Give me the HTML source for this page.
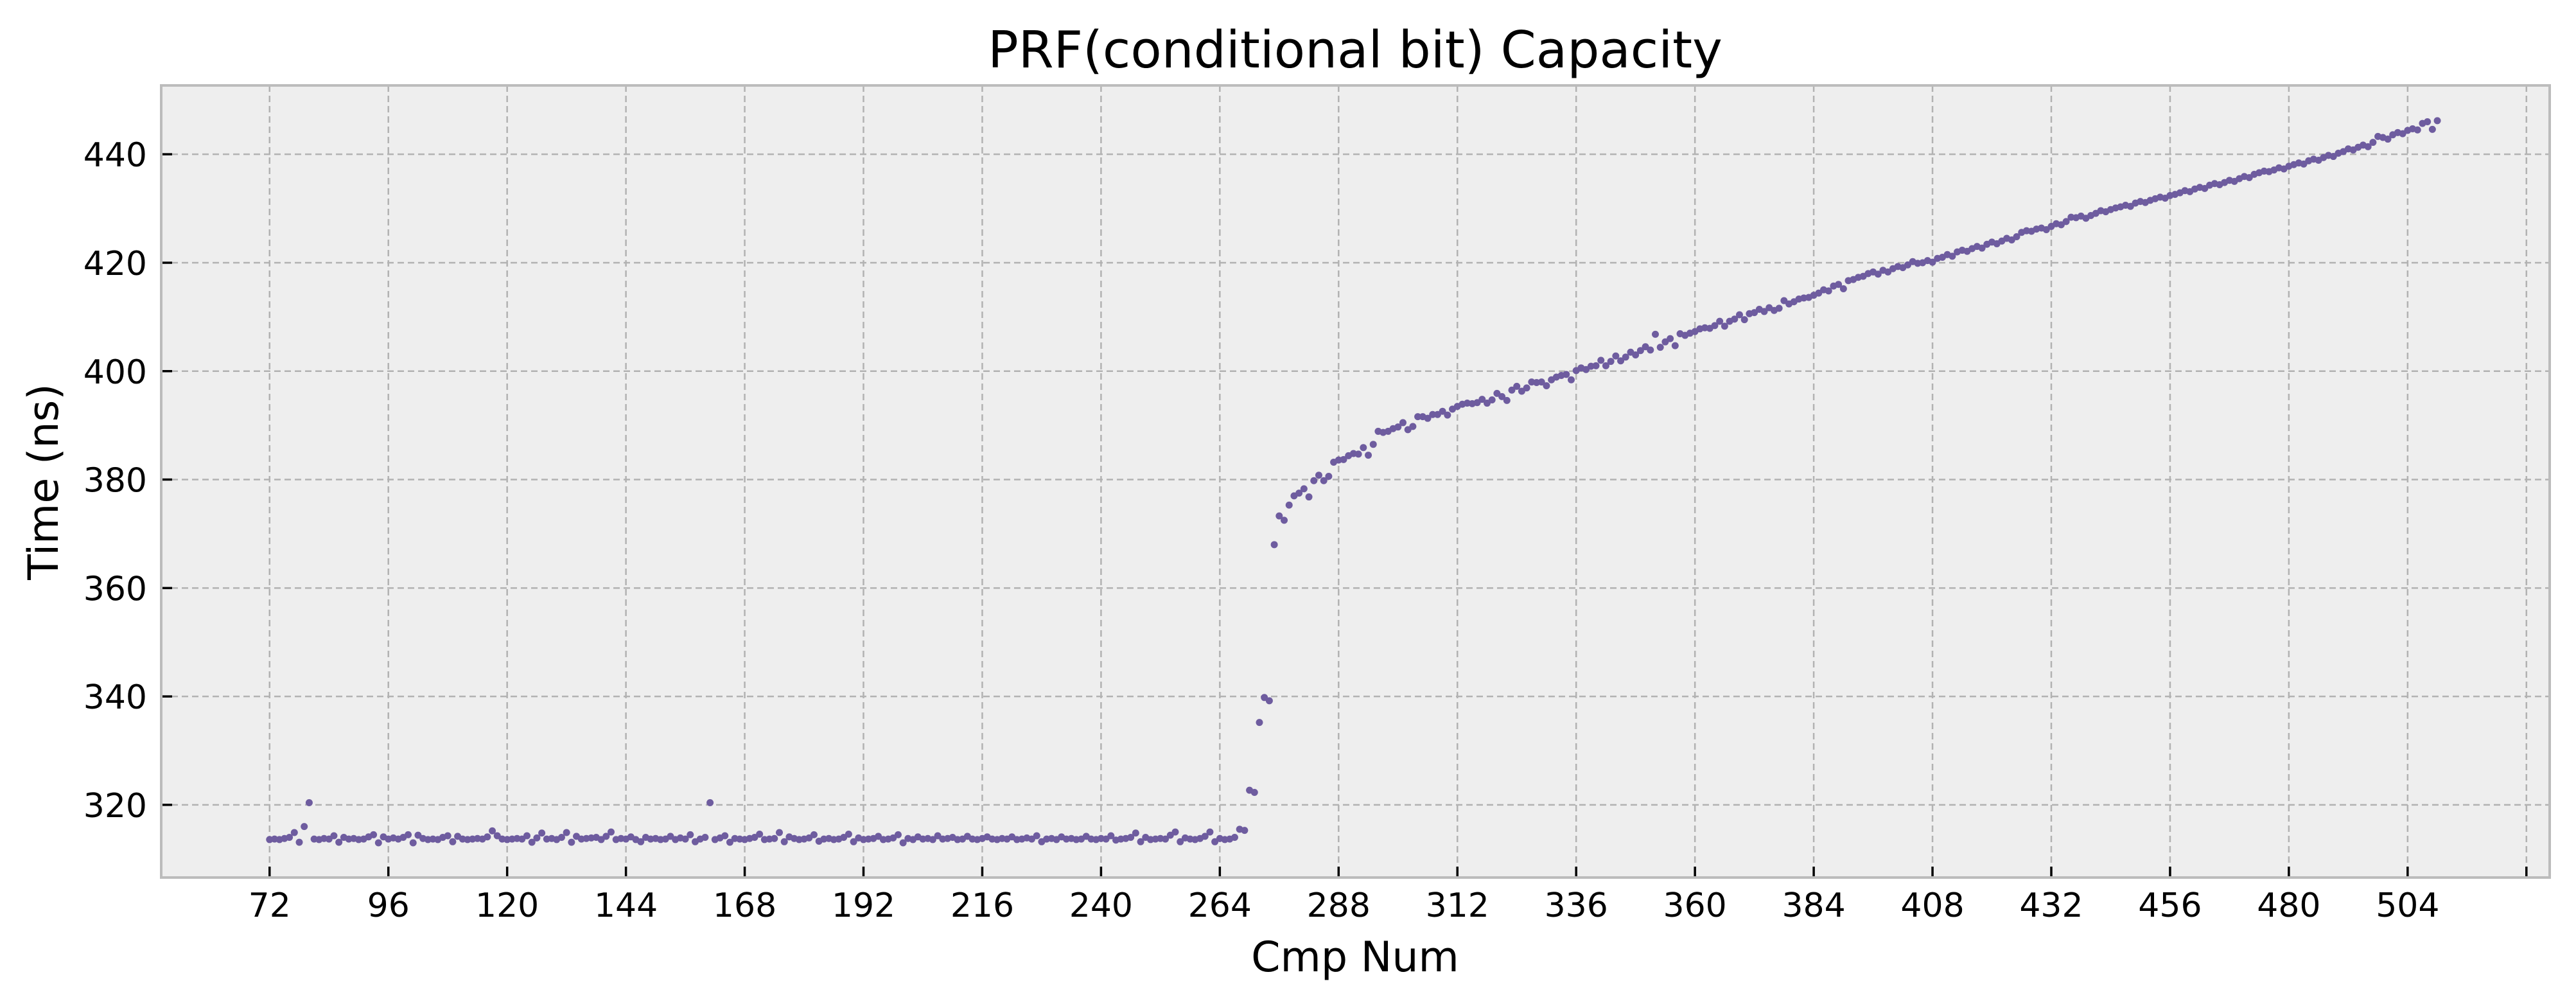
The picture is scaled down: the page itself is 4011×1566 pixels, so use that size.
<!DOCTYPE html>
<html><head><meta charset="utf-8"><style>
html,body{margin:0;padding:0;background:#fff;}
svg{display:block;font-family:"DejaVu Sans","Liberation Sans",sans-serif;}
</style></head><body>
<svg id="chart" width="4011" height="1566" viewBox="0 0 4011 1566" xmlns="http://www.w3.org/2000/svg">
<rect x="0" y="0" width="4011" height="1566" fill="#ffffff"/>
<rect x="251" y="133" width="3719" height="1233" fill="#eeeeee"/>
<g id="grid"></g>
<g id="points"></g>
<g id="ticks"></g>
<rect x="251" y="133" width="3719" height="1233" fill="none" stroke="#bcbcbc" stroke-width="4"/>
<text x="2110" y="105" font-size="79" text-anchor="middle" fill="#000">PRF(conditional bit) Capacity</text>
<text x="2110" y="1512" font-size="65" text-anchor="middle" fill="#000">Cmp Num</text>
<text x="0" y="0" font-size="65" text-anchor="middle" fill="#000" transform="translate(90,750) rotate(-90)">Time (ns)</text>
</svg>
<script>
const xTicks = [72,96,120,144,168,192,216,240,264,288,312,336,360,384,408,432,456,480,504,528];
const xTickLabels = ["72","96","120","144","168","192","216","240","264","288","312","336","360","384","408","432","456","480","504",""];
const yTicks = [320,340,360,380,400,420,440];
const yTickLabels = ["320","340","360","380","400","420","440"];
const xStart = 72;
const flatTimes = [
313.6,313.7,313.6,313.8,314.0,314.9,313.1,316.0,320.4,313.7,313.6,313.8,
313.7,314.3,313.1,314.0,313.7,313.8,313.6,313.7,314.1,314.5,313.0,314.1,
313.7,313.9,313.7,314.0,314.5,313.0,314.4,313.8,313.6,313.7,313.6,314.0,
314.3,313.2,314.2,313.7,313.6,313.7,313.8,313.7,314.1,315.2,314.3,313.7,
313.6,313.7,313.8,313.7,314.3,313.1,313.9,314.8,313.7,313.8,313.6,314.0,
314.9,313.1,314.2,313.7,313.8,313.9,314.0,313.6,314.2,315.0,313.6,313.8,
313.7,314.1,313.6,313.2,314.0,313.7,313.8,313.6,313.7,314.2,313.6,313.9,
313.7,314.5,313.2,313.7,314.0,320.4,313.6,313.9,314.3,313.1,313.8,313.7,
313.6,313.8,314.0,314.6,313.6,313.7,313.8,314.9,313.2,314.1,313.8,313.6,
313.7,313.9,314.5,313.3,313.7,313.8,313.6,313.7,314.0,314.6,313.2,313.9,
313.6,313.7,313.8,314.2,313.6,313.7,313.9,314.5,313.0,313.8,313.6,314.1,
313.7,313.8,313.6,314.3,313.7,313.8,314.0,313.6,313.7,314.2,313.7,313.6,
313.8,314.1,313.7,313.6,313.8,313.7,314.1,313.6,313.7,313.9,313.7,314.3,
313.2,313.7,313.8,313.6,314.1,313.7,313.8,313.6,313.7,314.2,313.7,313.6,
313.8,313.7,314.3,313.5,313.7,313.8,314.0,314.8,313.2,314.0,313.6,313.7,
313.8,313.7,314.4,315.0,313.2,313.9,313.7,313.6,313.8,314.2,315.0,313.2,
313.8,313.6,313.7,314.0,315.5,315.3];
const riseTimes = [
322.7,322.3,335.2,339.8,339.2,368.0,373.3,372.5,375.3,377.0,377.5,378.3,376.8,379.8,380.8,379.8,380.6,
383.2,383.6,383.7,384.4,384.8,384.7,385.9,384.5,386.5,388.9,
388.7,388.9,389.4,389.7,390.5,389.2,389.8,391.6,391.6,391.3,
392.0,392.0,392.6,391.9,393.0,393.5,393.9,394.1,394.0,394.2,
394.8,394.1,394.7,395.9,395.3,394.6,396.5,397.2,396.3,396.9,
398.0,397.9,398.0,397.3,398.4,398.9,399.2,399.4,398.4,400.1,
400.6,400.3,400.9,401.0,402.0,401.0,401.8,402.8,401.9,402.6,
403.5,403.0,403.8,404.5,403.9,406.8,404.4,405.4,406.0,404.7,
406.9,406.6,407.0,407.3,407.8,408.0,407.9,408.4,409.2,408.3,
409.2,409.6,410.4,409.5,410.6,410.8,411.4,411.0,411.7,411.2,
411.6,413.0,412.4,412.8,413.3,413.5,413.6,414.0,414.4,415.0,
414.8,415.7,416.0,415.2,416.7,416.9,417.3,417.5,418.0,418.3,
417.9,418.6,418.3,418.9,419.3,419.1,419.6,420.2,419.9,420.0,
420.4,420.1,420.8,421.0,421.5,421.2,422.0,422.3,422.1,422.6,
423.0,422.7,423.4,423.8,423.5,424.0,424.5,424.2,424.8,425.6,
425.9,425.8,426.2,426.4,426.1,426.7,427.2,427.0,427.6,428.4,
428.3,428.6,428.2,428.7,429.1,429.6,429.4,429.8,430.1,430.3,
430.6,430.4,431.0,431.3,431.1,431.5,431.8,432.1,431.9,432.4,
432.6,432.9,433.3,433.1,433.6,433.9,433.7,434.3,434.6,434.4,
434.8,435.2,435.0,435.5,435.9,435.7,436.3,436.6,436.9,436.8,
437.1,437.5,437.3,437.8,438.1,438.4,438.2,438.8,439.1,438.9,
439.4,439.8,439.6,440.2,440.5,441.0,440.8,441.3,441.7,441.4,
442.2,443.3,443.1,442.8,443.6,444.0,443.8,444.4,444.7,444.5,
445.7,446.0,444.6,446.2];

const NS = "http://www.w3.org/2000/svg";
const PL = 251, PR = 3970, PT = 133, PB = 1366;
const XMIN = 50.1, XMAX = 532.7, YMIN = 306.6, YMAX = 452.7;
function sx(v){ return PL + (v - XMIN) / (XMAX - XMIN) * (PR - PL); }
function sy(v){ return PB - (v - YMIN) / (YMAX - YMIN) * (PB - PT); }
function mk(tag, attrs){ const e = document.createElementNS(NS, tag); for (const k in attrs) e.setAttribute(k, attrs[k]); return e; }

const grid = document.getElementById('grid');
const ticks = document.getElementById('ticks');
const pts = document.getElementById('points');

xTicks.forEach((t, i) => {
  const x = sx(t);
  const g = mk('line', {x1:x, x2:x, y1:PT, y2:PB, stroke:'#b2b2b2', 'stroke-width':2.5, 'stroke-dasharray':'10,6'});
  
  
  grid.appendChild(g);
  const tk = mk('line', {x1:x, x2:x, y1:PB, y2:PB-17, stroke:'#000', 'stroke-width':3.5});
  
  
  ticks.appendChild(tk);
  if (xTickLabels[i]) {
    const tx = mk('text', {x:x, y:1427, 'font-size':52, 'text-anchor':'middle', fill:'#000'});
    tx.textContent = xTickLabels[i];
    
    
    ticks.appendChild(tx);
  }
});
yTicks.forEach((t, i) => {
  const y = sy(t);
  const g = mk('line', {x1:PL, x2:PR, y1:y, y2:y, stroke:'#b2b2b2', 'stroke-width':2.5, 'stroke-dasharray':'10,6'});
  
  
  grid.appendChild(g);
  const tk = mk('line', {x1:PL, x2:PL+17, y1:y, y2:y, stroke:'#000', 'stroke-width':3.5});
  
  
  ticks.appendChild(tk);
  const tx = mk('text', {x:229, y:y+19, 'font-size':52, 'text-anchor':'end', fill:'#000'});
  tx.textContent = yTickLabels[i];
  
  
  ticks.appendChild(tx);
});
const allTimes = flatTimes.concat(riseTimes);
allTimes.forEach((v, i) => {
  const c = mk('circle', {cx:sx(xStart + i), cy:sy(v), r:5.5, fill:'#6e5c9f'});
  
  
  pts.appendChild(c);
});
</script>
</body></html>
